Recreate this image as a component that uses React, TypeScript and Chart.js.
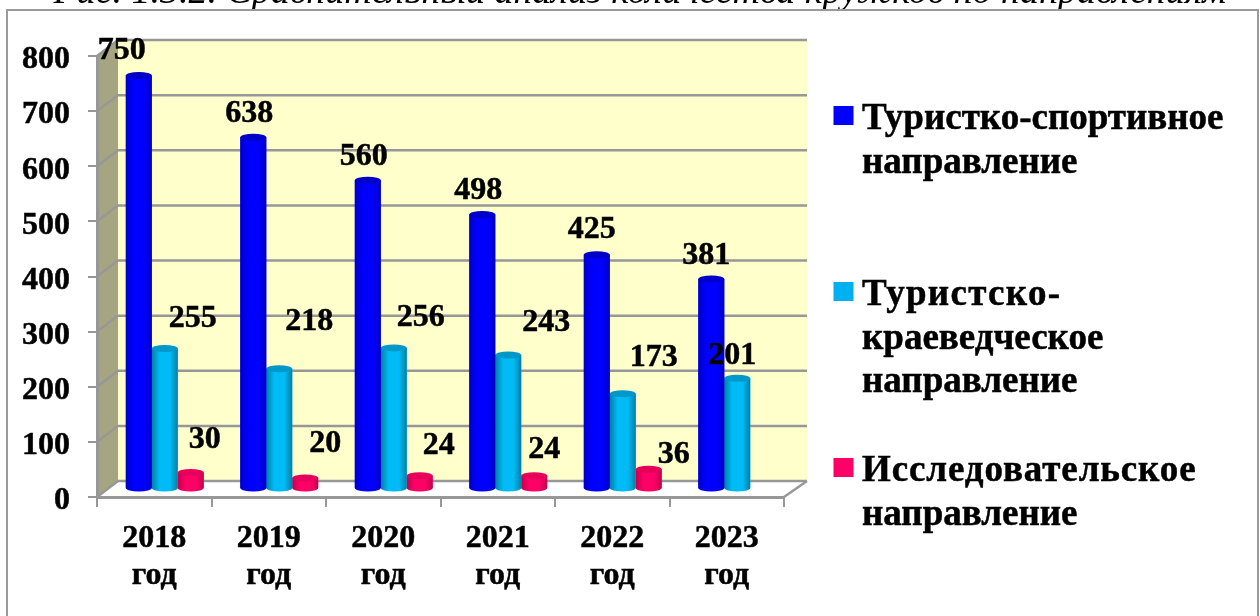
import React, { useEffect, useRef } from "react";
import { Chart, registerables } from "chart.js";

Chart.register(...registerables);

const categories = [["2018", "год"], ["2019", "год"], ["2020", "год"], ["2021", "год"], ["2022", "год"], ["2023", "год"]];
const sport = [750, 638, 560, 498, 425, 381];
const local = [255, 218, 256, 243, 173, 201];
const research = [30, 20, 24, 24, 36, null];
const seriesNames = ["Туристко-спортивное направление", "Туристско-краеведческое направление", "Исследовательское направление"];
const legendLines = [["Туристко-спортивное", "направление"], ["Туристско-", "краеведческое", "направление"], ["Исследовательское", "направление"]];
const legendTracking = [[0, 0], [1.3, 0, 0], [0.9, 0]];
const titleText = "Рис. 1.3.2. Сравнительный анализ количества кружков по направлениям";

const FONT = '"Liberation Serif", "Times New Roman", serif';
const GREY = "#979797";
const DEPTH_LEFT = 21;
const DEPTH_RIGHT = 23;
const DEPTH_Y = 16;
const BAR_DX = 10.5;
const BAR_DY = -8;
const HEAVY = 0.5;

const palette = [
  { base: "#0000FF", edge: "#0000C4", cap: "#0000C8", legend: "#0000FF" },
  { base: "#00BBF5", edge: "#007FA6", cap: "#0098C8", legend: "#00B0F0" },
  { base: "#FF0066", edge: "#C4004E", cap: "#E6005C", legend: "#FF0066" },
];

// nudge of each value label from the top of its bar
const labelNudge = [
  [[-17, -26], [-4, -25], [-4, -25], [-4, -25], [-5, -26], [-5, -25]],
  [[28, -31], [30, -49], [27, -32], [38, -34], [31, -37], [-5, -24]],
  [[14, -34], [20, -36], [19, -32], [10, -28], [25, -16], [0, 0]],
];

function heavyText(ctx: any, text: string, x: number, y: number) {
  ctx.fillText(text, x, y);
  ctx.strokeText(text, x, y);
}

const stage = {
  id: "stage",
  beforeDraw(chart: any) {
    const { ctx, scales } = chart;
    const y = scales.y;
    const x0 = scales.x.left;
    const x1 = scales.x.right;
    const yBottom = y.getPixelForValue(0);
    const yTop = y.getPixelForValue(800);
    ctx.save();
    ctx.fillStyle = "#ffffff";
    ctx.fillRect(0, 0, chart.width, chart.height);
    // cropped caption above the frame
    ctx.fillStyle = "#000";
    ctx.font = `italic 38px ${FONT}`;
    ctx.textAlign = "center";
    ctx.textBaseline = "alphabetic";
    ctx.fillText(titleText, 640, 3);
    // frame
    ctx.fillStyle = "#ffffff";
    ctx.fillRect(7, 10, 1251, 620);
    ctx.strokeStyle = "#9a9a9a";
    ctx.lineWidth = 2;
    ctx.strokeRect(7, 10, 1251, 640);
    // back wall
    ctx.fillStyle = "#FFFFCC";
    ctx.fillRect(x0 + DEPTH_LEFT, yTop - DEPTH_Y, x1 - x0 + DEPTH_RIGHT - DEPTH_LEFT, yBottom - yTop);
    // side wall
    ctx.fillStyle = "#A5A581";
    ctx.beginPath();
    ctx.moveTo(x0 - 1, yTop);
    ctx.lineTo(x0 + DEPTH_LEFT, yTop - DEPTH_Y);
    ctx.lineTo(x0 + DEPTH_LEFT, yBottom - DEPTH_Y);
    ctx.lineTo(x0 - 1, yBottom);
    ctx.closePath();
    ctx.fill();
    // grid on the walls
    ctx.strokeStyle = GREY;
    ctx.lineWidth = 2.5;
    for (const t of y.ticks) {
      const py = y.getPixelForValue(t.value);
      ctx.beginPath();
      ctx.moveTo(x0, py);
      ctx.lineTo(x0 + DEPTH_LEFT, py - DEPTH_Y);
      ctx.lineTo(x1 + DEPTH_RIGHT, py - DEPTH_Y);
      ctx.stroke();
    }
    ctx.beginPath();
    ctx.moveTo(x1, yBottom);
    ctx.lineTo(x1 + DEPTH_RIGHT, yBottom - DEPTH_Y);
    ctx.stroke();
    ctx.restore();
  },
  beforeDatasetDraw(chart: any) {
    chart.ctx.save();
    chart.ctx.translate(BAR_DX, BAR_DY);
  },
  afterDatasetDraw(chart: any, args: any) {
    const { ctx } = chart;
    const c = palette[args.index];
    const meta = chart.getDatasetMeta(args.index);
    const ry = 3.5;
    meta.data.forEach((bar: any, i: number) => {
      const v = chart.data.datasets[args.index].data[i];
      if (v === null || v === undefined) return;
      const { x, y, base, width } = bar;
      const l = x - width / 2;
      const r = x + width / 2;
      const g = ctx.createLinearGradient(l, 0, r, 0);
      g.addColorStop(0, c.edge);
      g.addColorStop(0.3, c.base);
      g.addColorStop(0.7, c.base);
      g.addColorStop(1, c.edge);
      ctx.fillStyle = g;
      ctx.beginPath();
      ctx.moveTo(l, y);
      ctx.lineTo(l, base);
      ctx.ellipse(x, base, width / 2, ry, 0, Math.PI, 0, true);
      ctx.lineTo(r, y);
      ctx.closePath();
      ctx.fill();
      ctx.fillStyle = c.cap;
      ctx.beginPath();
      ctx.ellipse(x, y, width / 2, ry, 0, 0, Math.PI * 2);
      ctx.fill();
    });
    ctx.restore();
  },
  afterDatasetsDraw(chart: any) {
    const { ctx } = chart;
    ctx.save();
    ctx.fillStyle = "#000";
    ctx.strokeStyle = "#000";
    ctx.lineWidth = HEAVY;
    ctx.font = `bold 32px ${FONT}`;
    ctx.textAlign = "center";
    ctx.textBaseline = "middle";
    chart.data.datasets.forEach((ds: any, di: number) => {
      chart.getDatasetMeta(di).data.forEach((bar: any, i: number) => {
        if (ds.data[i] === null || ds.data[i] === undefined) return;
        const [dx, dy] = labelNudge[di][i];
        heavyText(ctx, String(ds.data[i]), bar.x + BAR_DX + dx, bar.y + BAR_DY + dy + 1.5);
      });
    });
    // legend
    const tops = [106, 282, 458];
    const baselines = [129, 305, 481];
    ctx.textAlign = "left";
    ctx.textBaseline = "alphabetic";
    ctx.font = `bold 37px ${FONT}`;
    legendLines.forEach((lines, k) => {
      ctx.fillStyle = palette[k].legend;
      ctx.fillRect(833.5, tops[k], 20, 19);
      ctx.fillStyle = "#000";
      lines.forEach((line, n) => {
        ctx.letterSpacing = `${legendTracking[k][n]}px`;
        heavyText(ctx, line, 862, baselines[k] + n * 43.5);
      });
    });
    ctx.letterSpacing = "0px";
    ctx.restore();
  },
};

export default function App() {
  const ref = useRef<HTMLCanvasElement>(null);
  useEffect(() => {
    const chart = new Chart(ref.current as HTMLCanvasElement, {
      type: "bar",
      data: {
        labels: categories as any,
        datasets: [sport, local, research].map((data, i) => ({
          label: seriesNames[i],
          data,
          backgroundColor: palette[i].base,
          barPercentage: 1,
          categoryPercentage: 0.68,
          clip: false as any,
        })),
      },
      options: {
        animation: false,
        responsive: false,
        layout: { padding: { top: 56, right: 476, left: 0, bottom: 0 } },
        plugins: { legend: { display: false }, tooltip: { enabled: false } },
        scales: {
          x: {
            grid: { offset: true, drawOnChartArea: false, drawTicks: true, tickLength: 10, color: GREY, lineWidth: 2 },
            border: { color: GREY, width: 3 },
            ticks: { color: "#000", textStrokeColor: "#000", textStrokeWidth: HEAVY, font: { family: FONT, size: 32, weight: "bold", lineHeight: 1.17 }, padding: 13, maxRotation: 0, autoSkip: false },
            afterFit(s: any) { s.height = 119; },
          },
          y: {
            min: 0,
            max: 800,
            grid: { drawOnChartArea: false, drawTicks: true, tickLength: 9, color: GREY, lineWidth: 2 },
            border: { color: GREY, width: 3 },
            ticks: {
              stepSize: 100,
              color: "#000",
              textStrokeColor: "#000",
              textStrokeWidth: HEAVY,
              font: { family: FONT, size: 32, weight: "bold", lineHeight: 0.25 },
              padding: 18,
              callback: (v: any) => ["", String(v)],
            },
            afterFit(s: any) { s.width = 97; },
          },
        },
      },
      plugins: [stage],
    } as any);
    return () => chart.destroy();
  }, []);
  return (
    <div style={{ position: "absolute", left: 0, top: 0, width: 1260, height: 616, overflow: "hidden" }}>
      <canvas ref={ref} width={1260} height={616} style={{ display: "block" }} />
    </div>
  );
}
